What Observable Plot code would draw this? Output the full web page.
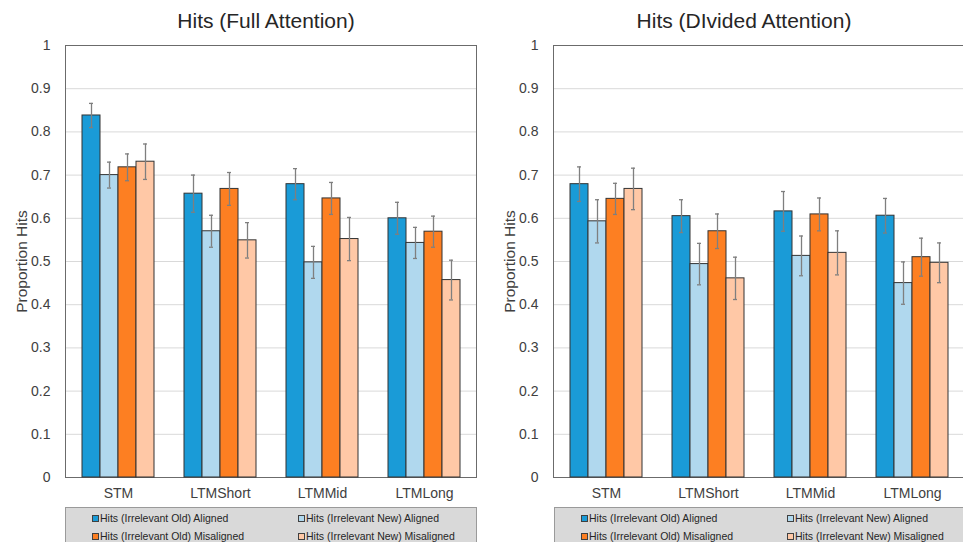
<!DOCTYPE html>
<html>
<head>
<meta charset="utf-8">
<script src="https://cdn.jsdelivr.net/npm/d3@7"></script>
<script src="https://cdn.jsdelivr.net/npm/@observablehq/plot@0.6"></script>
<style>
  html, body { margin: 0; padding: 0; background: #fff; }
  body { width: 963px; height: 542px; overflow: hidden; position: relative; font-family: "Liberation Sans", Arial, sans-serif; }
  .panel { position: absolute; top: 0; width: 480px; height: 542px; }
  .title { position: absolute; top: 8px; font-size: 21px; color: #262626; white-space: nowrap; transform: translateX(-50%); line-height: 26px; }
  .chart { position: absolute; top: 30px; left: 0; }
  .chart [aria-label="y-axis label"] { font-size: 15.5px; }
  .legend { position: absolute; top: 507px; height: 60px; width: 412px; background: #d9d9d9; border: 1px solid #9a9a9a; box-sizing: border-box; }
  .item { position: absolute; font-size: 10.5px; color: #262626; white-space: nowrap; line-height: 12px; display: flex; align-items: center; }
  .sw { display: inline-block; width: 5px; height: 5px; border: 1px solid #404040; margin-right: 1px; }
</style>
</head>
<body>
<div id="root"></div>
<script>
// ---- data ----
const categories = ["STM", "LTMShort", "LTMMid", "LTMLong"];
const series = [
  "Hits (Irrelevant Old) Aligned",
  "Hits (Irrelevant New) Aligned",
  "Hits (Irrelevant Old) Misaligned",
  "Hits (Irrelevant New) Misaligned"
];
const seriesColors = ["#1a9bd7", "#b0d8ee", "#fd7f22", "#ffc8a6"];
const yTicks = [0, 0.1, 0.2, 0.3, 0.4, 0.5, 0.6, 0.7, 0.8, 0.9, 1];
const titles = ["Hits (Full Attention)", "Hits (DIvided Attention)"];
const yLabel = "Proportion Hits";

// means per category (rows) x series (columns)
const fullMeans = [
  [0.838, 0.700, 0.718, 0.731],
  [0.657, 0.570, 0.668, 0.549],
  [0.679, 0.498, 0.646, 0.552],
  [0.600, 0.543, 0.569, 0.457]
];
const fullErrors = [
  [0.028, 0.030, 0.031, 0.041],
  [0.043, 0.037, 0.038, 0.041],
  [0.036, 0.037, 0.037, 0.050],
  [0.037, 0.036, 0.036, 0.046]
];
const dividedMeans = [
  [0.679, 0.593, 0.645, 0.668],
  [0.605, 0.494, 0.570, 0.461],
  [0.616, 0.513, 0.609, 0.520],
  [0.606, 0.450, 0.510, 0.497]
];
const dividedErrors = [
  [0.040, 0.050, 0.036, 0.048],
  [0.038, 0.048, 0.040, 0.049],
  [0.046, 0.046, 0.038, 0.051],
  [0.040, 0.049, 0.044, 0.046]
];

function rowsOf(means, errs) {
  const rows = [];
  categories.forEach((c, i) => series.forEach((s, j) => {
    rows.push({category: c, series: s, mean: means[i][j], err: errs[i][j]});
  }));
  return rows;
}

const dims = {width: 480, height: 475, marginLeft: 65, marginRight: 4, marginTop: 15, marginBottom: 28};
const baseStyle = {fontFamily: "'Liberation Sans', Arial, sans-serif", fontSize: "14px", color: "#404040", background: "transparent", overflow: "visible"};

function makeBackground() {
  return Plot.plot({
    ...dims,
    style: baseStyle,
    y: {domain: [0, 1], ticks: yTicks, tickFormat: d => String(+d.toFixed(1)), label: yLabel, labelAnchor: "center", labelArrow: "none", tickSize: 0, tickPadding: 15, labelOffset: 50},
    marks: [
      Plot.ruleY(yTicks.slice(1), {stroke: "#d9d9d9", strokeWidth: 1}),
      Plot.frame({stroke: "#6b6b6b", strokeWidth: 1})
    ]
  });
}

function makeBars(rows) {
  return Plot.plot({
    ...dims,
    style: baseStyle,
    fx: {domain: categories, paddingInner: 0.275, paddingOuter: 0.1375, label: null, axis: "bottom", tickSize: 0, tickPadding: 11, fontSize: 13.5},
    x: {domain: series, axis: null, padding: 0},
    y: {domain: [0, 1], axis: null},
    color: {domain: series, range: seriesColors},
    marks: [
      Plot.barY(rows, {fx: "category", x: "series", y: "mean", fill: "series", stroke: "#333", strokeWidth: 1}),
      Plot.ruleX(rows, {fx: "category", x: "series", y1: d => d.mean - d.err, y2: d => d.mean + d.err, stroke: "#7f7f7f", strokeWidth: 1.3}),
      Plot.tickY(rows, {fx: "category", x: "series", y: d => d.mean - d.err, stroke: "#7f7f7f", strokeWidth: 1.3, insetLeft: 7, insetRight: 7}),
      Plot.tickY(rows, {fx: "category", x: "series", y: d => d.mean + d.err, stroke: "#7f7f7f", strokeWidth: 1.3, insetLeft: 7, insetRight: 7})
    ]
  });
}

function makePanel(left, titleCenter, title, rows, legendLeft) {
  const panel = document.createElement("div");
  panel.className = "panel";
  panel.style.left = left + "px";
  const t = document.createElement("div");
  t.className = "title";
  t.style.left = titleCenter + "px";
  t.textContent = title;
  panel.appendChild(t);
  const bg = document.createElement("div");
  bg.className = "chart";
  bg.appendChild(makeBackground());
  panel.appendChild(bg);
  const fg = document.createElement("div");
  fg.className = "chart";
  fg.appendChild(makeBars(rows));
  panel.appendChild(fg);
  const lg = document.createElement("div");
  lg.className = "legend";
  lg.style.left = legendLeft + "px";
  const pos = [[26, 4], [232, 4], [26, 22], [232, 22]];
  series.forEach((s, i) => {
    const it = document.createElement("div");
    it.className = "item";
    it.style.left = pos[i][0] + "px";
    it.style.top = pos[i][1] + "px";
    const sw = document.createElement("span");
    sw.className = "sw";
    sw.style.background = seriesColors[i];
    it.appendChild(sw);
    it.appendChild(document.createTextNode(s));
    lg.appendChild(it);
  });
  panel.appendChild(lg);
  document.getElementById("root").appendChild(panel);
}

makePanel(0, 266, titles[0], rowsOf(fullMeans, fullErrors), 65);
makePanel(488, 256, titles[1], rowsOf(dividedMeans, dividedErrors), 66);
</script>
</body>
</html>
